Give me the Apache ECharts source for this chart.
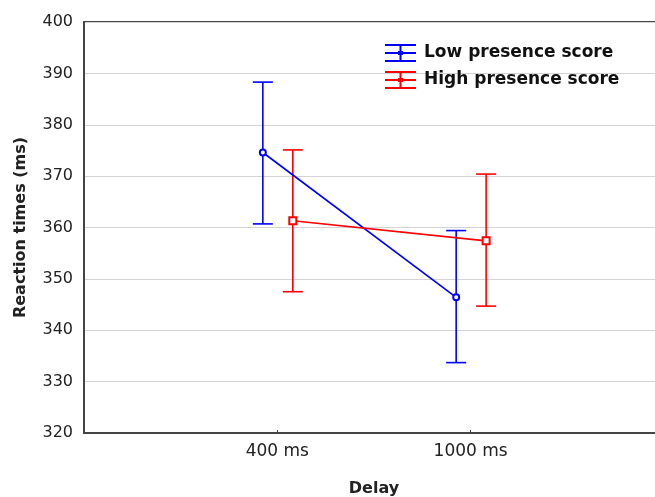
<!DOCTYPE html>
<html>
<head>
<meta charset="utf-8">
<script src="https://cdn.jsdelivr.net/npm/echarts@6/dist/echarts.min.js"></script>
<style>html,body{margin:0;padding:0;background:#fff}#c{width:655px;height:497px}</style>
</head>
<body>
<div id="c"></div>
<script>
const categories = ['400 ms', '1000 ms'];
const lowMean = [374.6, 346.4];
const lowLower = [360.7, 333.7];
const lowUpper = [388.3, 359.4];
const highMean = [361.3, 357.4];
const highLower = [347.5, 344.7];
const highUpper = [375.1, 370.4];
const yTicks = [320, 330, 340, 350, 360, 370, 380, 390, 400];

const lowOffset = -0.075, highOffset = 0.08;
const FONT = 'DejaVu Sans';

function pts(mean, off) { return mean.map((v, i) => [i + 1 + off, v]); }
function errs(lo, hi, off) { return lo.map((v, i) => [i + 1 + off, v, hi[i]]); }

function errRender(color) {
  return function (params, api) {
    const x = api.value(0);
    const p1 = api.coord([x, api.value(1)]);
    const p2 = api.coord([x, api.value(2)]);
    const w = 10;
    const style = { stroke: color, lineWidth: 1.6, fill: null };
    return {
      type: 'group',
      children: [
        { type: 'line', shape: { x1: p1[0], y1: p1[1], x2: p2[0], y2: p2[1] }, style },
        { type: 'line', shape: { x1: p1[0] - w, y1: p1[1], x2: p1[0] + w, y2: p1[1] }, style },
        { type: 'line', shape: { x1: p2[0] - w, y1: p2[1], x2: p2[0] + w, y2: p2[1] }, style }
      ]
    };
  };
}

const legendIcon = 'path://M0,0H31V2H0Z M0,8H31V10H0Z M0,16H31V18H0Z M14.5,0H16.5V18H14.5Z M13,7H18V11H13Z';

const chart = echarts.init(document.getElementById('c'), null, { renderer: 'canvas' });
chart.setOption({
  animation: false,
  backgroundColor: '#fff',
  grid: { left: 84, top: 22, width: 580, height: 411, show: true, borderColor: '#444', borderWidth: 2,
          containLabel: false, outerBoundsMode: 'none' },
  legend: {
    orient: 'vertical',
    left: 380, top: 39,
    itemWidth: 31, itemHeight: 18, itemGap: 9,
    textStyle: { fontFamily: FONT, fontSize: 17, fontWeight: 'bold', color: '#111', padding: [0, 0, 0, 3] },
    data: [
      { name: 'Low presence score', icon: legendIcon },
      { name: 'High presence score', icon: legendIcon }
    ]
  },
  xAxis: {
    type: 'value', min: 0, max: 3, interval: 1,
    name: 'Delay', nameLocation: 'middle', nameGap: 48,
    nameTextStyle: { fontFamily: FONT, fontSize: 16, fontWeight: 'bold', color: '#222' },
    axisLine: { show: true, lineStyle: { color: '#444', width: 2 } },
    axisTick: { show: true, inside: true, length: 3, lineStyle: { color: '#444' } },
    splitLine: { show: false },
    axisLabel: {
      fontFamily: FONT, fontSize: 17, color: '#222', margin: 10,
      formatter: v => (v >= 1 && v <= categories.length && Number.isInteger(v)) ? categories[v - 1] : ''
    }
  },
  yAxis: {
    type: 'value', min: yTicks[0], max: yTicks[yTicks.length - 1], interval: 10,
    name: 'Reaction times (ms)', nameLocation: 'middle', nameGap: 55,
    nameTextStyle: { fontFamily: FONT, fontSize: 16, fontWeight: 'bold', color: '#222' },
    axisLine: { show: true, lineStyle: { color: '#444', width: 2 } },
    axisTick: { show: false },
    splitLine: { show: true, lineStyle: { color: '#d4d4d4', width: 1 } },
    axisLabel: { fontFamily: FONT, fontSize: 16, color: '#222', margin: 11 }
  },
  series: [
    {
      name: 'Low presence score', type: 'line', data: pts(lowMean, lowOffset),
      color: '#0000ff', lineStyle: { color: '#0000ff', width: 1.6 },
      symbol: 'emptyCircle', symbolSize: 6, itemStyle: { color: '#0000ff', borderWidth: 1.6 }, z: 3
    },
    {
      name: 'High presence score', type: 'line', data: pts(highMean, highOffset),
      color: '#ff0000', lineStyle: { color: '#ff0000', width: 1.6 },
      symbol: 'emptyRect', symbolSize: 7, itemStyle: { color: '#ff0000', borderWidth: 1.6 }, z: 3
    },
    {
      name: 'Low presence score', type: 'custom', data: errs(lowLower, lowUpper, lowOffset),
      color: '#0000ff', renderItem: errRender('#0000ff'), encode: { x: 0, y: [1, 2] }, z: 2
    },
    {
      name: 'High presence score', type: 'custom', data: errs(highLower, highUpper, highOffset),
      color: '#ff0000', renderItem: errRender('#ff0000'), encode: { x: 0, y: [1, 2] }, z: 2
    }
  ]
});
</script>
</body>
</html>
